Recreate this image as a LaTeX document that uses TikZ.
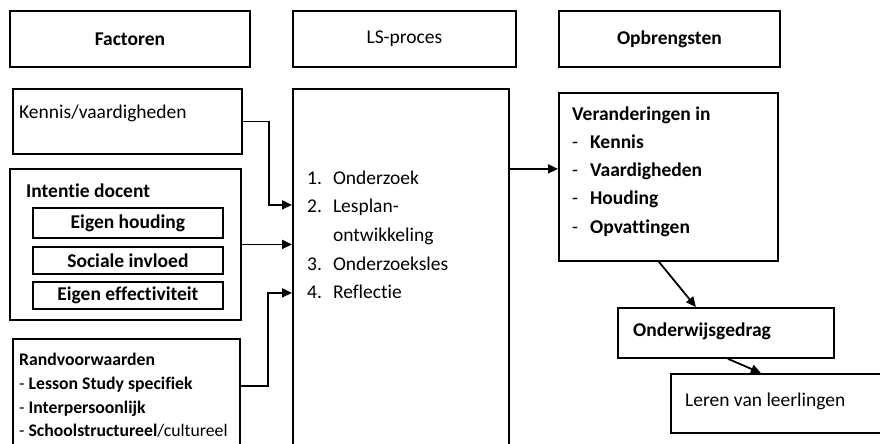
\documentclass[tikz,border=0pt]{standalone}
\usepackage{fontspec}
\setmainfont{Carlito}[Ligatures=NoCommon]
\usetikzlibrary{arrows.meta}
\begin{document}
\begin{tikzpicture}[x=1pt,y=-1pt,
  box/.style={draw,line width=1.8pt,inner sep=0pt,anchor=north west,font=\fontsize{19.5}{23}\selectfont},
  txt/.style={anchor=base west,inner sep=0pt,font=\fontsize{19.5}{23}\selectfont},
  arr/.style={line width=1.8pt,-{Triangle[length=10pt,width=9pt]}}]
\useasboundingbox (0,0) rectangle (880,444);
\clip (0,0) rectangle (880,444);
% top row
\node[box,minimum width=240,minimum height=56] (fac) at (9,10) {\bfseries Factoren};
\node[box,minimum width=223,minimum height=56] (lsh) at (292,10) {LS-proces};
\node[box,minimum width=221,minimum height=56] (opb) at (558,10) {\bfseries Opbrengsten};
% factors
\node[box,minimum width=229,minimum height=65] (ken) at (12,88) {};
\node[txt] (kent) at (19,118) {Kennis/vaardigheden};
\node[box,minimum width=231,minimum height=151] (int) at (9,168) {};
\node[txt] (intt) at (26,197) {\bfseries Intentie docent};
\node[box,minimum width=190,minimum height=30] (eh) at (32,207) {\bfseries Eigen houding};
\node[box,minimum width=190,minimum height=27] (si) at (32,246) {\bfseries Sociale invloed};
\node[box,minimum width=190,minimum height=27] (ee) at (32,281) {\bfseries Eigen effectiviteit};
\node[box,minimum width=227,minimum height=120] (rand) at (12,338) {};
\node[txt,font=\fontsize{17.7}{23.7}\selectfont,align=left,anchor=north west] (randt) at (19,353)
  {\bfseries Randvoorwaarden\\- \textbf{Lesson Study specifiek}\\- \textbf{Interpersoonlijk}\\- \textbf{Schoolstructureel}\mdseries/cultureel};
% LS process
\node[box,minimum width=216,minimum height=370] (ls) at (292,88) {};
\node[txt,font=\fontsize{19.5}{28.7}\selectfont] (lst) at (307,184)
  {\begin{tabular}[t]{@{}l@{\hspace{11pt}}l@{}}1.&Onderzoek\\2.&Lesplan-\\&ontwikkeling\\3.&Onderzoeksles\\4.&Reflectie\end{tabular}};
% outcomes
\node[box,minimum width=219,minimum height=168] (ver) at (558,92) {};
\node[txt,font=\fontsize{19.5}{28.3}\selectfont] (vert) at (572,120)
  {\bfseries\begin{tabular}[t]{@{}l@{\hspace{12pt}}l@{}}\multicolumn{2}{@{}l@{}}{Veranderingen in}\\\mdseries -&Kennis\\\mdseries -&Vaardigheden\\\mdseries -&Houding\\\mdseries -&Opvattingen\end{tabular}};
\node[box,minimum width=216,minimum height=50] (ond) at (617,307) {};
\node[txt] (ondt) at (633,336) {\bfseries Onderwijsgedrag};
\node[box,minimum width=215,minimum height=59] (ler) at (670,373) {};
\node[txt] (lert) at (685,406) {Leren van leerlingen};
% connectors
\draw[arr] (ken.east) -- ++(26,0) |- ([yshift=69pt]ls.west);
\draw[arr] (int.east) -- (int.east -| ls.west);
\draw[arr] ([yshift=13pt]rand.east) -- ++(27,0) |- ([yshift=-19pt]ls.west);
\draw[arr] ([yshift=105pt]ls.east) -- ([yshift=105pt]ls.east -| ver.west);
\draw[arr] ([xshift=-9.5pt]ver.south) -- ([xshift=-30pt]ond.north);
\draw[arr] ([xshift=2pt]ond.south) -- ([xshift=-17.5pt]ler.north);
\end{tikzpicture}
\end{document}
